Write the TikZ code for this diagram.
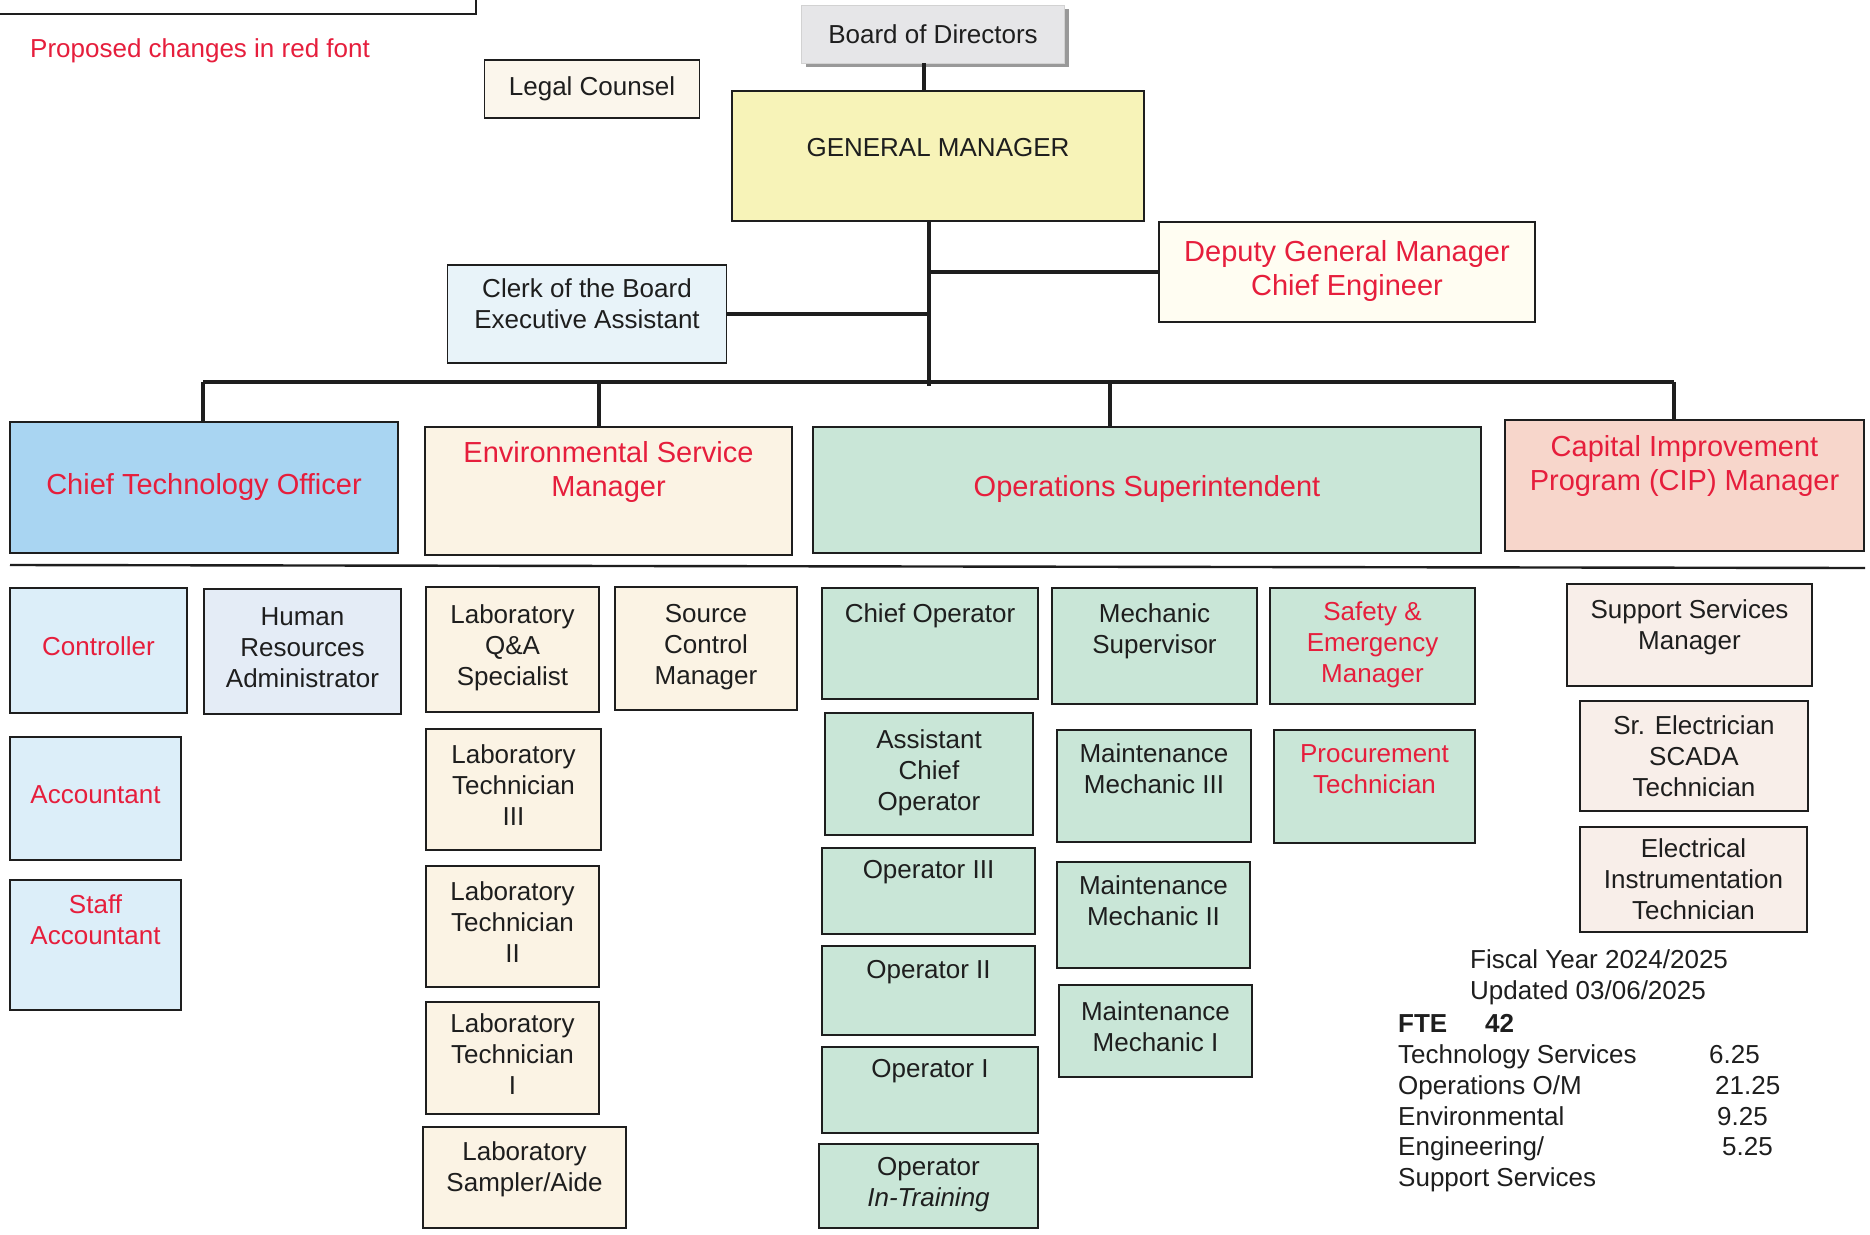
\documentclass[tikz,border=0pt]{standalone}
\usepackage{fontspec}
\setmainfont{Liberation Sans}
\usepackage{xcolor}
\definecolor{ink}{HTML}{1E1E1E}
\definecolor{alert}{HTML}{E61E3C}
\definecolor{boardgray}{HTML}{E6E6E8}
\definecolor{gmyellow}{HTML}{F7F3B8}
\definecolor{legalcream}{HTML}{FBF6EC}
\definecolor{deputycream}{HTML}{FFFDF2}
\definecolor{clerkblue}{HTML}{E8F3F9}
\definecolor{ctoblue}{HTML}{A9D5F2}
\definecolor{paleblue}{HTML}{DCEEF9}
\definecolor{hrblue}{HTML}{E4ECF6}
\definecolor{cream}{HTML}{FBF3E4}
\definecolor{opsgreen}{HTML}{C9E6D7}
\definecolor{cippink}{HTML}{F7D6CB}
\definecolor{supportpink}{HTML}{F8EEE9}
\usepackage{tikz}
\usetikzlibrary{shadows}
% extra depth under the last line, lifts the text towards the top of its box
\newcommand\lowpad[1]{\rule[-#1pt]{0pt}{0pt}}
\newcommand\basepad{8}
\tikzset{
  box/.style={draw=ink, rectangle, line width=1.9pt, align=center, inner sep=3pt, outer sep=0pt,
    text=ink, font=\fontsize{26}{31}\selectfont, execute at end node={\lowpad{\basepad}}},
  head/.style={box, font=\fontsize{29}{34}\selectfont, text=alert},
  centred/.style={execute at begin node={\def\basepad{0}}},
  wh/.style 2 args={minimum width=#1pt, minimum height=#2pt},
  new/.style={text=alert},
  link/.style={draw=ink, line width=3.2pt},
  note/.style={font=\fontsize{26}{31}\selectfont, text=ink, inner sep=0pt, anchor=base west},
}

\begin{document}
\begin{tikzpicture}[x=1pt, y=-1pt,
    tech/.style={box, fill=paleblue},
    env/.style={box, fill=cream},
    opsb/.style={box, fill=opsgreen},
    sup/.style={box, fill=supportpink}]
  \fill[white] (0,0) rectangle (1870,1234);
  \useasboundingbox (0,0) rectangle (1870,1234);
  % cut-off title box
  \draw[draw=ink, line width=1.6pt] (-10,-10) rectangle (476,14);
  \node[note, new] (proposed) at (30,57) {Proposed changes in red font};
  % top of the chart
  \node[box, centred, fill=boardgray, draw=gray!35, line width=0.8pt,
    drop shadow={shadow xshift=4pt, shadow yshift=-4pt, fill=gray!80, opacity=1},
    wh={263}{58}] (board) at (933,34) {Board of Directors};
  \node[box, centred, fill=legalcream, wh={215}{58}] (legal) at (592,89) {Legal Counsel};
  \node[box, fill=gmyellow, wh={412}{130}] (gm) at (938,156) {GENERAL MANAGER\lowpad{18}};
  \node[head, fill=deputycream, wh={376}{100}] (deputy) at (1347,272) {Deputy General Manager\\Chief Engineer};
  \node[box, fill=clerkblue, wh={279}{98}] (clerk) at (587,314) {Clerk of the Board\\Executive Assistant\lowpad{21}};
  % department heads
  \node[head, fill=ctoblue, wh={388}{131}] (cto) at (204,487.5) {Chief Technology Officer};
  \node[head, fill=cream, wh={367}{128}] (esm) at (608.5,491) {Environmental Service\\Manager\lowpad{45}};
  \node[head, fill=opsgreen, wh={668}{126}] (ops) at (1147,490) {Operations Superintendent};
  \node[head, fill=cippink, wh={359}{131}] (cip) at (1684.5,485.5) {Capital Improvement\\Program (CIP) Manager\lowpad{45}};
  % connectors
  \coordinate (hub) at (929,386);
  \draw[link] ([xshift=-9pt]board.south) -- ([xshift=-9pt]board.south |- gm.north);
  \draw[link] (gm.south -| hub) -- (hub);
  \draw[link] (deputy.west) -- (deputy.west -| hub);
  \draw[link] (clerk.east) -- (clerk.east -| hub);
  \foreach \nd/\dx in {cto/203, esm/599, ops/1110, cip/1674} {
    \coordinate (drop-\nd) at (\dx,382);
    \draw[link] (drop-\nd) -- (drop-\nd |- \nd.north);
  }
  \draw[link] (drop-cto) -- (drop-cip);
  \draw[draw=ink, line width=2.4pt] (10,565) -- (1865,568);
  % technology
  \node[tech, new, wh={177}{125}] (controller) at (98.5,650.5) {Controller};
  \node[box, fill=hrblue, wh={197}{125}] (hr) at (302.5,651.5) {Human\\Resources\\Administrator};
  \node[tech, new, wh={171}{123}] (accountant) at (95.5,798.5) {Accountant};
  \node[tech, new, wh={171}{130}] (staffacct) at (95.5,945) {Staff\\Accountant\lowpad{51}};
  % environmental
  \node[env, wh={173}{125}] (labqa) at (512.5,649.5) {Laboratory\\Q\&A\\Specialist};
  \node[env, wh={182}{123}] (source) at (706,648.5) {Source\\Control\\Manager};
  \node[env, wh={175}{121}] (lab3) at (513.5,789.5) {Laboratory\\Technician\\III};
  \node[env, wh={173}{121}] (lab2) at (512.5,926.5) {Laboratory\\Technician\\II};
  \node[env, wh={173}{112}] (lab1) at (512.5,1058) {Laboratory\\Technician\\I};
  \node[env, wh={203}{101}] (sampler) at (524.5,1177.5) {Laboratory\\Sampler/Aide\lowpad{21}};
  % operations
  \node[opsb, wh={216}{111}] (chiefop) at (930,643.5) {Chief Operator\lowpad{61}};
  \node[opsb, wh={208}{122}] (asstchief) at (929,774) {Assistant\\Chief\\Operator};
  \node[opsb, wh={213}{86}] (op3) at (928.5,891) {Operator III\lowpad{43}};
  \node[opsb, wh={213}{89}] (op2) at (928.5,990.5) {Operator II\lowpad{43}};
  \node[opsb, wh={216}{86}] (op1) at (930,1090) {Operator I\lowpad{43}};
  \node[opsb, wh={219}{84}] (optrain) at (928.5,1186) {Operator\\\textit{In-Training}};
  \node[opsb, wh={205}{116}] (mechsup) at (1154.5,646) {Mechanic\\Supervisor\lowpad{35}};
  \node[opsb, wh={194}{112}] (mm3) at (1154,786) {Maintenance\\Mechanic III\lowpad{35}};
  \node[opsb, wh={193}{106}] (mm2) at (1153.5,915) {Maintenance\\Mechanic II\lowpad{29}};
  \node[opsb, wh={193}{92}] (mm1) at (1155.5,1031) {Maintenance\\Mechanic I};
  \node[opsb, new, wh={205}{116}] (safety) at (1372.5,646) {Safety \&\\Emergency\\Manager};
  \node[opsb, new, wh={201}{113}] (procure) at (1374.5,786.5) {Procurement\\Technician\lowpad{35}};
  % support services
  \node[sup, wh={245}{102}] (ssm) at (1689.5,635) {Support Services\\Manager\lowpad{21}};
  \node[sup, centred, wh={228}{110}] (srelec) at (1694,756) {Sr. Electrician\\SCADA\\Technician};
  \node[sup, centred, wh={227}{105}] (eit) at (1693.5,879.5) {Electrical\\Instrumentation\\Technician};
  % staffing summary
  \node[note] (fiscal) at (1470,968) {Fiscal Year 2024/2025};
  \node[note] (updated) at (1470,999) {Updated 03/06/2025};
  \node[note, font=\fontsize{26}{31}\selectfont\bfseries] (fte) at (1398,1032) {FTE};
  \node[note, font=\fontsize{26}{31}\selectfont\bfseries] (fte-total) at (1485,1032) {42};
  \foreach \lbl/\val/\vx/\vy [count=\r] in {{Technology Services}/6.25/1709/1063,
      {Operations O/M}/21.25/1715/1094, {Environmental}/9.25/1717/1125, {Engineering/}/5.25/1722/1155} {
    \node[note] (row\r) at (1398,\vy) {\lbl};
    \node[note] (val\r) at (\vx,\vy) {\val};
  }
  \node[note] (row5) at (1398,1186) {Support Services};
\end{tikzpicture}
\end{document}
